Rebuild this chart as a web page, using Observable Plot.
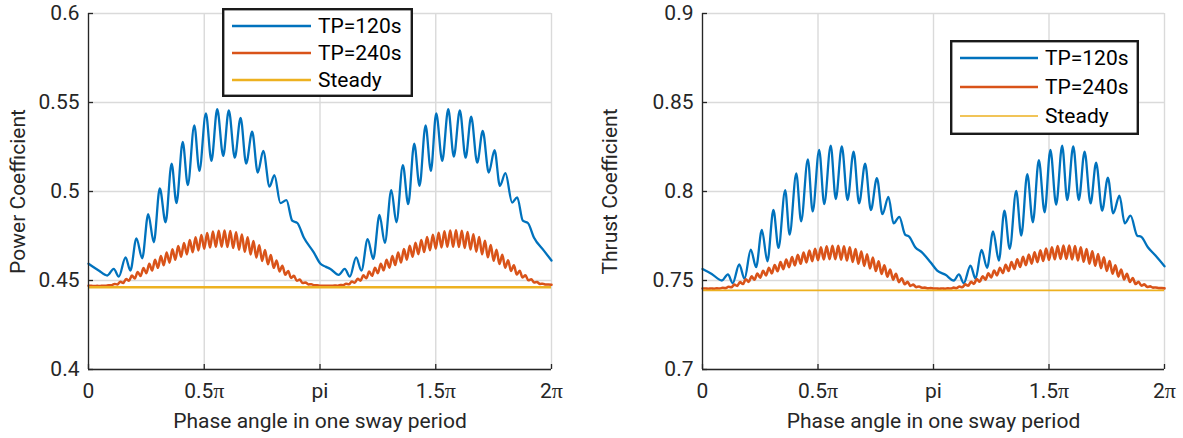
<!DOCTYPE html>
<html><head><meta charset="utf-8">
<script src="https://cdn.jsdelivr.net/npm/d3@7"></script>
<script src="https://cdn.jsdelivr.net/npm/@observablehq/plot@0.6"></script>
<style>
body{margin:0;background:#fff;font-family:Roboto,sans-serif;}
#wrap{position:relative;width:1183px;height:438px;overflow:hidden;background:#fff;}
.panel{position:absolute;top:0;}
.legend{position:absolute;}
</style></head><body><div id="wrap"></div>
<script>
// ---------- data (phase in units of pi) ----------
const seriesNames = ["TP=120s", "TP=240s", "Steady"];
const xTicks = [0, 0.5, 1, 1.5, 2];
const xTickLabels = ["0", "0.5π", "pi", "1.5π", "2π"];
const xLabel = "Phase angle in one sway period";

const powerTicks = [0.4, 0.45, 0.5, 0.55, 0.6];
const powerTickLabels = ["0.4", "0.45", "0.5", "0.55", "0.6"];
const powerLabel = "Power Coefficient";
const thrustTicks = [0.7, 0.75, 0.8, 0.85, 0.9];
const thrustTickLabels = ["0.7", "0.75", "0.8", "0.85", "0.9"];
const thrustLabel = "Thrust Coefficient";

// TP=120s, power coefficient
const power120Phase = [0,0.044,0.081,0.109,0.131,0.160,0.181,0.207,0.232,0.258,0.282,0.308,0.333,0.359,0.380,0.407,0.429,0.457,0.479,0.507,0.531,0.556,0.582,0.606,0.632,0.657,0.681,0.707,0.731,0.755,0.782,0.803,0.829,0.855,0.880,0.902,0.930,0.973,1.002,
 1.024,1.045,1.081,1.107,1.129,1.156,1.179,1.206,1.230,1.257,1.280,1.308,1.330,1.358,1.381,1.407,1.430,1.456,1.479,1.502,1.528,1.554,1.578,1.604,1.629,1.653,1.679,1.703,1.729,1.754,1.777,1.801,1.830,1.852,1.876,1.898,1.924,1.967,2.0];
const power120 = [0.4594,0.4556,0.4528,0.4565,0.4522,0.4630,0.4556,0.4737,0.4625,0.4873,0.4715,0.5017,0.4827,0.5157,0.4935,0.5278,0.5036,0.5372,0.5116,0.5439,0.5172,0.5462,0.5200,0.5456,0.5190,0.5414,0.5157,0.5336,0.5106,0.5228,0.5028,0.5092,0.4935,0.4952,0.4836,0.4823,0.4742,0.4658,0.4594,
 0.4578,0.4565,0.4532,0.4565,0.4522,0.4630,0.4556,0.4733,0.4621,0.4868,0.4711,0.5008,0.4827,0.5148,0.4929,0.5269,0.5032,0.5372,0.5116,0.5439,0.5172,0.5462,0.5196,0.5456,0.5190,0.5420,0.5162,0.5340,0.5106,0.5232,0.5032,0.5103,0.4938,0.4967,0.4836,0.4823,0.4742,0.4668,0.4612];

// TP=240s, power coefficient: per fast cycle (0.025 pi), trough then crest
const power240Low = [0.4470,0.4469,0.4469,0.4470,0.4473,0.4478,0.4486,0.4498,0.4511,0.4525,0.4541,0.4556,0.4571,0.4586,0.4600,0.4617,0.4634,0.4647,0.4659,0.4669,0.4678,0.4685,0.4689,0.4690,0.4688,0.4682,0.4673,0.4661,0.4646,0.4629,0.4610,0.4591,0.4571,0.4551,0.4532,0.4514,0.4498,0.4486,0.4478,0.4473,
 0.4471,0.4470,0.4470,0.4471,0.4474,0.4479,0.4487,0.4499,0.4512,0.4526,0.4541,0.4557,0.4572,0.4587,0.4601,0.4617,0.4634,0.4648,0.4660,0.4670,0.4679,0.4685,0.4689,0.4690,0.4688,0.4683,0.4674,0.4662,0.4647,0.4630,0.4611,0.4592,0.4572,0.4553,0.4534,0.4517,0.4501,0.4489,0.4481,0.4477];
const power240High = [0.4470,0.4470,0.4471,0.4474,0.4481,0.4493,0.4509,0.4528,0.4548,0.4570,0.4594,0.4616,0.4637,0.4657,0.4676,0.4694,0.4711,0.4728,0.4743,0.4756,0.4767,0.4775,0.4780,0.4781,0.4778,0.4771,0.4759,0.4743,0.4722,0.4698,0.4672,0.4643,0.4613,0.4583,0.4553,0.4526,0.4505,0.4489,0.4479,0.4473,
 0.4471,0.4471,0.4472,0.4475,0.4482,0.4494,0.4510,0.4529,0.4550,0.4571,0.4594,0.4616,0.4638,0.4658,0.4677,0.4695,0.4712,0.4728,0.4744,0.4757,0.4768,0.4776,0.4781,0.4782,0.4779,0.4772,0.4760,0.4744,0.4723,0.4699,0.4673,0.4644,0.4614,0.4585,0.4555,0.4529,0.4507,0.4491,0.4482,0.4477];
const power240End = 0.4476;
const powerSteady = 0.4462;

// TP=120s, thrust coefficient
const thrust120Phase = [0,0.040,0.084,0.110,0.131,0.159,0.182,0.209,0.232,0.257,0.281,0.307,0.329,0.358,0.377,0.406,0.427,0.456,0.477,0.505,0.527,0.555,0.577,0.603,0.628,0.654,0.678,0.704,0.729,0.755,0.779,0.805,0.827,0.852,0.877,0.895,0.921,0.949,0.987,
 1.016,1.052,1.088,1.110,1.131,1.160,1.182,1.208,1.232,1.258,1.283,1.307,1.330,1.358,1.380,1.406,1.430,1.456,1.481,1.506,1.531,1.557,1.579,1.605,1.629,1.654,1.680,1.704,1.730,1.755,1.778,1.805,1.828,1.853,1.882,1.899,1.928,1.961,2.0];
const thrust120 = [0.7565,0.7537,0.7500,0.7534,0.7485,0.7590,0.7510,0.7674,0.7575,0.7784,0.7608,0.7896,0.7683,0.8008,0.7758,0.8101,0.7832,0.8181,0.7888,0.8234,0.7929,0.8258,0.7958,0.8254,0.7952,0.8224,0.7933,0.8157,0.7896,0.8075,0.7873,0.7970,0.7821,0.7858,0.7758,0.7746,0.7687,0.7659,0.7603,
 0.7556,0.7532,0.7500,0.7534,0.7485,0.7584,0.7510,0.7672,0.7571,0.7776,0.7612,0.7892,0.7678,0.8004,0.7752,0.8098,0.7827,0.8176,0.7883,0.8234,0.7926,0.8258,0.7952,0.8254,0.7952,0.8224,0.7933,0.8162,0.7892,0.8078,0.7877,0.7976,0.7821,0.7864,0.7752,0.7746,0.7687,0.7640,0.7580];

// TP=240s, thrust coefficient: per fast cycle, trough then crest
const thrust240Low = [0.7455,0.7454,0.7454,0.7455,0.7457,0.7462,0.7470,0.7480,0.7492,0.7504,0.7516,0.7528,0.7540,0.7552,0.7564,0.7575,0.7585,0.7594,0.7602,0.7609,0.7614,0.7618,0.7620,0.7620,0.7617,0.7612,0.7604,0.7594,0.7582,0.7568,0.7553,0.7537,0.7521,0.7505,0.7491,0.7479,0.7470,0.7463,0.7459,0.7456,
 0.7455,0.7454,0.7454,0.7455,0.7457,0.7462,0.7471,0.7481,0.7493,0.7505,0.7517,0.7529,0.7541,0.7553,0.7565,0.7576,0.7586,0.7595,0.7603,0.7610,0.7615,0.7619,0.7621,0.7621,0.7618,0.7613,0.7605,0.7595,0.7583,0.7569,0.7554,0.7538,0.7522,0.7506,0.7492,0.7480,0.7471,0.7464,0.7460,0.7457];
const thrust240High = [0.7455,0.7455,0.7456,0.7459,0.7465,0.7477,0.7491,0.7507,0.7523,0.7539,0.7555,0.7571,0.7587,0.7603,0.7618,0.7632,0.7645,0.7657,0.7668,0.7678,0.7686,0.7692,0.7695,0.7695,0.7692,0.7686,0.7676,0.7663,0.7647,0.7629,0.7608,0.7585,0.7561,0.7537,0.7513,0.7492,0.7477,0.7466,0.7460,0.7457,
 0.7455,0.7455,0.7456,0.7460,0.7466,0.7478,0.7492,0.7508,0.7524,0.7540,0.7556,0.7572,0.7588,0.7604,0.7619,0.7633,0.7646,0.7658,0.7669,0.7679,0.7687,0.7693,0.7696,0.7696,0.7693,0.7687,0.7677,0.7664,0.7648,0.7630,0.7609,0.7586,0.7562,0.7538,0.7514,0.7493,0.7478,0.7467,0.7461,0.7457];
const thrust240End = 0.7456;
const thrustSteady = 0.7444;

const cycleLen = 0.025; // phase length (pi units) of one fast TP=240s oscillation

// ---------- styling ----------
const BLUE = "#0072BD", ORANGE = "#D95319", YELLOW = "#EDB120";
const AXIS = "#262626", GRID = "#dadada";
const FONT = "Roboto";
const FS = 21;

function zipRows(ph, vals) { return ph.map((p, i) => ({p, v: vals[i]})); }
function cycleRows(low, high, endV) {
  const rows = [];
  low.forEach((v, k) => { rows.push({p: k * cycleLen, v}); rows.push({p: k * cycleLen + cycleLen / 2, v: high[k]}); });
  rows.push({p: 2, v: endV});
  return rows;
}

const H = 438, MT = 13, MB = 69;
function panel({left, width, marginLeft, marginRight, ticks, tickLabels, yLabel, blue, orange, steady, orangeW, steadyW}) {
  const plotW = width - marginLeft - marginRight, plotH = H - MT - MB;
  const svg = Plot.plot({
    width, height: H, marginLeft, marginRight, marginTop: MT, marginBottom: MB,
    x: {domain: [0, 2]},
    y: {domain: [ticks[0], ticks[ticks.length - 1]]},
    style: {fontFamily: FONT, fontSize: FS + "px", color: AXIS, background: "white", overflow: "visible"},
    marks: [
      Plot.gridX({ticks: xTicks, stroke: GRID, strokeOpacity: 1, strokeWidth: 1.4}),
      Plot.gridY({ticks, stroke: GRID, strokeOpacity: 1, strokeWidth: 1.4}),
      Plot.line(blue, {x: "p", y: "v", stroke: BLUE, strokeWidth: 2.3, curve: "monotone-x"}),
      Plot.line(orange, {x: "p", y: "v", stroke: ORANGE, strokeWidth: orangeW, curve: "monotone-x"}),
      Plot.ruleY([steady], {stroke: YELLOW, strokeWidth: steadyW}),
      Plot.ruleX([0], {stroke: AXIS, strokeWidth: 1.3}),
      Plot.ruleY([ticks[0]], {stroke: AXIS, strokeWidth: 1.3}),
      Plot.tickY(ticks, {y: d => d, stroke: AXIS, strokeWidth: 1.3, insetRight: plotW - 5}),
      Plot.tickX(xTicks, {x: d => d, stroke: AXIS, strokeWidth: 1.3, insetTop: plotH - 5}),
      Plot.axisX({ticks: xTicks, tickSize: 0, tickPadding: 14, tickFormat: d => xTickLabels[xTicks.indexOf(d)], label: null, fill: AXIS}),
      Plot.axisY({ticks, tickSize: 0, tickPadding: 9, tickFormat: d => tickLabels[ticks.indexOf(d)], label: null, fill: AXIS}),
      Plot.text([xLabel], {frameAnchor: "bottom", dy: 52, fill: AXIS, fontSize: FS, lineAnchor: "middle"}),
      Plot.text([yLabel], {frameAnchor: "left", dx: -(marginLeft - 18), rotate: -90, fill: AXIS, fontSize: FS, lineAnchor: "middle", textAnchor: "middle"})
    ]
  });
  // render pi in a serif symbol face like the original
  d3.select(svg).selectAll('[aria-label="x-axis tick label"] text').each(function() {
    const t = this.textContent;
    if (t.includes("π")) {
      this.textContent = "";
      const parts = t.split("π");
      const sel = d3.select(this);
      sel.append("tspan").text(parts[0]);
      sel.append("tspan").attr("font-family", "Liberation Serif, DejaVu Serif, serif").attr("font-size", FS + 1).text("π");
    }
  });
  const div = document.createElement("div");
  div.className = "panel";
  div.style.left = left + "px";
  div.appendChild(svg);
  document.getElementById("wrap").appendChild(div);
}

function legend({left, top, width, height, rowY, lineX1, lineX2, textX, widths}) {
  const colors = [BLUE, ORANGE, YELLOW];
  const svg = d3.create("svg").attr("class", "legend").attr("width", width).attr("height", height)
    .style("left", left + "px").style("top", top + "px");
  svg.append("rect").attr("x", 1.2).attr("y", 1.2).attr("width", width - 2.4).attr("height", height - 2.4)
    .attr("fill", "white").attr("stroke", "#1a1a1a").attr("stroke-width", 2.4);
  seriesNames.forEach((name, i) => {
    svg.append("line").attr("x1", lineX1).attr("x2", lineX2).attr("y1", rowY[i]).attr("y2", rowY[i])
      .attr("stroke", colors[i]).attr("stroke-width", widths[i]);
    svg.append("text").attr("x", textX).attr("y", rowY[i]).attr("dy", "0.35em")
      .attr("font-family", FONT).attr("font-size", FS).attr("fill", "#000").text(name);
  });
  document.getElementById("wrap").appendChild(svg.node());
}

panel({left: 0, width: 591, marginLeft: 88, marginRight: 40, ticks: powerTicks, tickLabels: powerTickLabels, yLabel: powerLabel,
  blue: zipRows(power120Phase, power120), orange: cycleRows(power240Low, power240High, power240End), steady: powerSteady, orangeW: 2.5, steadyW: 2.3});
panel({left: 592, width: 591, marginLeft: 110, marginRight: 19, ticks: thrustTicks, tickLabels: thrustTickLabels, yLabel: thrustLabel,
  blue: zipRows(thrust120Phase, thrust120), orange: cycleRows(thrust240Low, thrust240High, thrust240End), steady: thrustSteady, orangeW: 2.6, steadyW: 1.8});

legend({left: 222, top: 8, width: 191, height: 89, rowY: [18, 45, 72], lineX1: 10, lineX2: 89, textX: 96, widths: [2.3, 2.3, 2.3]});
legend({left: 950, top: 40, width: 189, height: 95, rowY: [18, 47, 76], lineX1: 10, lineX2: 88, textX: 95, widths: [2.3, 2.7, 1.5]});
</script></body></html>
